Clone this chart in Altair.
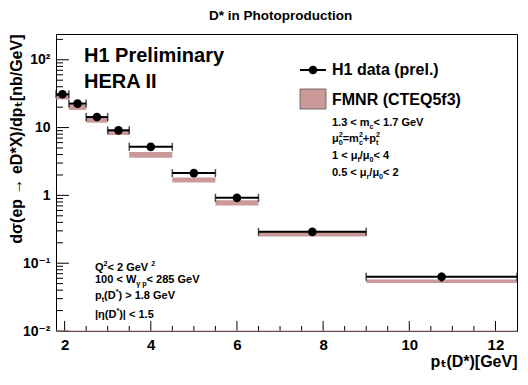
import altair as alt
import pandas as pd

# ---------------- data ----------------
bin_lo = [1.8, 2.1, 2.5, 3.0, 3.5, 4.5, 5.5, 6.5, 9.0]
bin_hi = [2.1, 2.5, 3.0, 3.5, 4.5, 5.5, 6.5, 9.0, 12.5]
pt_mean = [1.95, 2.3, 2.75, 3.25, 4.0, 5.0, 6.0, 7.75, 10.75]
h1_xsec = [31.0, 22.6, 14.3, 9.1, 5.2, 2.13, 0.92, 0.29, 0.063]
h1_err = [1.6, 1.1, 0.7, 0.45, 0.26, 0.11, 0.05, 0.02, 0.0095]
fmnr_lo = [26.0, 18.2, 11.8, 7.8, 3.6, 1.55, 0.71, 0.248, 0.051]
fmnr_hi = [31.0, 21.9, 14.3, 9.4, 4.37, 1.84, 0.845, 0.29, 0.0575]

x_major = [2, 4, 6, 8, 10, 12]
x_minor = [2.5, 3, 3.5, 4.5, 5, 5.5, 6.5, 7, 7.5, 8.5, 9, 9.5, 10.5, 11, 11.5]
y_decades = [0.01, 0.1, 1, 10, 100]
y_minor = [k * d for d in [0.01, 0.1, 1, 10] for k in range(2, 10)] + [200]

W, H = 461, 297
FONT = "Liberation Sans, DejaVu Sans"
PINK = "#cc9999"

df = pd.DataFrame({
    "lo": bin_lo, "hi": bin_hi, "x": pt_mean, "y": h1_xsec,
    "ylo": [v - e for v, e in zip(h1_xsec, h1_err)],
    "yhi": [v + e for v, e in zip(h1_xsec, h1_err)],
    "tlo": fmnr_lo, "thi": fmnr_hi,
})

xs = alt.Scale(domain=[1.8, 12.5], nice=False, zero=False)
ys = alt.Scale(type="log", domain=[0.01, 240], nice=False)

xaxis = alt.Axis(values=x_major, ticks=False, domain=False, grid=False,
                 labelFont=FONT, labelFontSize=15, labelFontWeight="bold",
                 labelColor="black", labelPadding=6, labelFlush=False,
                 title="pₜ(D*)[GeV]", titleFont=FONT, titleFontSize=16,
                 titleFontWeight="bold", titleColor="black",
                 titleX=W, titleY=35, titleAlign="right", titleBaseline="alphabetic")
yaxis = alt.Axis(values=y_decades, ticks=False, domain=False, grid=False,
                 labelExpr="datum.value < 0.05 ? '10⁻²' : datum.value < 0.5 ? '10⁻¹' : datum.value < 5 ? '1' : datum.value < 50 ? '10' : '10²'",
                 labelFont=FONT, labelFontSize=14, labelFontWeight="bold",
                 labelColor="black", labelPadding=6, labelFlush=False,
                 title="dσ(ep → eD*X)/dpₜ[nb/GeV]", titleFont=FONT, titleFontSize=16,
                 titleFontWeight="bold", titleColor="black",
                 titleX=-35, titleY=0, titleAngle=270, titleAlign="right",
                 titleBaseline="alphabetic")


def X(f):
    return alt.X(f, type="quantitative", scale=xs, axis=xaxis)


def Y(f):
    return alt.Y(f, type="quantitative", scale=ys, axis=yaxis)


base = alt.Chart(df)
bands = base.mark_rect(color=PINK).encode(x=X("lo"), x2="hi", y=Y("tlo"), y2="thi")
hbar = base.mark_rule(color="black", strokeWidth=2).encode(x=X("lo"), x2="hi", y=Y("y"))
cap_l = base.mark_tick(orient="vertical", size=8, thickness=1.5, color="black").encode(x=X("lo"), y=Y("y"))
cap_r = base.mark_tick(orient="vertical", size=8, thickness=1.5, color="black").encode(x=X("hi"), y=Y("y"))
vbar = base.mark_rule(color="black", strokeWidth=2).encode(x=X("x"), y=Y("ylo"), y2="yhi")
pts = base.mark_circle(size=75, color="black", opacity=1).encode(x=X("x"), y=Y("y"))

ymaj = alt.Chart(pd.DataFrame({"v": y_decades})).mark_rule(color="black").encode(
    y=Y("v"), x=alt.value(0), x2=alt.value(13))
ymin = alt.Chart(pd.DataFrame({"v": y_minor})).mark_rule(color="black").encode(
    y=Y("v"), x=alt.value(0), x2=alt.value(7))
xmaj = alt.Chart(pd.DataFrame({"v": x_major})).mark_rule(color="black").encode(
    x=X("v"), y=alt.value(H), y2=alt.value(H - 10))
xmin = alt.Chart(pd.DataFrame({"v": x_minor})).mark_rule(color="black").encode(
    x=X("v"), y=alt.value(H), y2=alt.value(H - 5))
bottom = alt.Chart(pd.DataFrame({"a": [0]})).mark_rule(color=PINK, strokeWidth=1.2).encode(
    x=alt.value(0), x2=alt.value(W), y=alt.value(H))

# legend
leg_line = alt.Chart(pd.DataFrame({"a": [0]})).mark_rule(color="black", strokeWidth=2).encode(
    x=alt.value(244), x2=alt.value(270), y=alt.value(36))
leg_pt = alt.Chart(pd.DataFrame({"a": [0]})).mark_circle(size=75, color="black", opacity=1).encode(
    x=alt.value(257), y=alt.value(36))
leg_box = alt.Chart(pd.DataFrame({"a": [0]})).mark_rect(color=PINK, stroke="#555555", strokeWidth=0.8).encode(
    x=alt.value(244), x2=alt.value(270), y=alt.value(55), y2=alt.value(75))

# ---------------- text annotations ----------------
AW = {" ": 278, "(": 333, ")": 333, "*": 389, "+": 584, ".": 278, "/": 278, "<": 584, "=": 584,
      ">": 584, "[": 333, "]": 333, "|": 280, "A": 722, "C": 722, "D": 722, "E": 667, "F": 611,
      "G": 778, "H": 722, "I": 278, "M": 833, "N": 722, "P": 667, "Q": 778, "R": 722, "T": 611,
      "V": 667, "W": 944, "X": 667, "a": 556, "c": 556, "d": 611, "e": 556, "f": 333, "h": 611,
      "i": 278, "l": 278, "m": 889, "n": 611, "o": 611, "p": 611, "r": 389, "t": 333, "u": 611,
      "y": 556, "μ": 611, "γ": 556, "η": 611, "σ": 611}


def tw(s, fs):
    return sum(AW.get(c, 556) for c in s) * fs / 1000.0


rows = []


def rich(parts, x, y, fs):
    for p in parts:
        kind = p[0]
        if kind == "n":
            rows.append({"x": x, "y": y, "t": p[1], "fs": fs})
            x += tw(p[1], fs)
        elif kind == "sub":
            rows.append({"x": x, "y": y + 0.3 * fs, "t": p[1], "fs": 0.65 * fs})
            x += tw(p[1], 0.65 * fs)
        elif kind == "sup":
            rows.append({"x": x, "y": y - 0.42 * fs, "t": p[1], "fs": 0.65 * fs})
            x += tw(p[1], 0.65 * fs)
        elif kind == "ss":
            rows.append({"x": x, "y": y + 0.3 * fs, "t": p[1], "fs": 0.65 * fs})
            rows.append({"x": x, "y": y - 0.42 * fs, "t": p[2], "fs": 0.65 * fs})
            x += max(tw(p[1], 0.65 * fs), tw(p[2], 0.65 * fs))


rich([("n", "H1 Preliminary")], 28, 28, 20)
rich([("n", "HERA II")], 28, 54, 20)
rich([("n", "H1 data (prel.)")], 276, 41, 16)
rich([("n", "FMNR (CTEQ5f3)")], 276, 71, 16)
SF = 11
rich([("n", "1.3 < m"), ("sub", "c"), ("n", " < 1.7 GeV")], 276, 92, SF)
rich([("n", "μ"), ("ss", "0", "2"), ("n", "=m"), ("ss", "c", "2"), ("n", "+p"), ("ss", "t", "2")], 276, 108, SF)
rich([("n", "1 < μ"), ("sub", "f"), ("n", "/μ"), ("sub", "0"), ("n", " < 4")], 276, 125, SF)
rich([("n", "0.5 < μ"), ("sub", "r"), ("n", "/μ"), ("sub", "0"), ("n", " < 2")], 276, 142, SF)
rich([("n", "Q"), ("sup", "2"), ("n", " < 2 GeV"), ("sup", "2")], 39, 237, SF)
rich([("n", "100 < W"), ("sub", "γ p"), ("n", " < 285 GeV")], 39, 249, SF)
rich([("n", "p"), ("sub", "t"), ("n", "(D"), ("sup", "*"), ("n", ") > 1.8 GeV")], 39, 265, SF)
rich([("n", "|η(D"), ("sup", "*"), ("n", ")| < 1.5")], 39, 284, SF)
rich([("n", "D* in Photoproduction")], 153, -14, 13.5)

ann = alt.Chart(pd.DataFrame(rows)).mark_text(
    align="left", baseline="alphabetic", font=FONT, fontWeight="bold", color="black"
).encode(
    x=alt.X("x:Q", scale=None, axis=None),
    y=alt.Y("y:Q", scale=None, axis=None),
    text="t:N",
    size=alt.Size("fs:Q", scale=None, legend=None),
)

chart = alt.layer(
    bands, hbar, cap_l, cap_r, vbar, pts, ymaj, ymin, xmaj, xmin, bottom,
    leg_line, leg_pt, leg_box, ann
).properties(
    width=W, height=H,
    autosize=alt.AutoSizeParams(type="none"),
    padding={"left": 48, "top": 26, "right": 3, "bottom": 46},
    background="white",
).configure_view(stroke="black", strokeWidth=1)

chart.save("out.html", embed_options={"renderer": "svg", "actions": False})
